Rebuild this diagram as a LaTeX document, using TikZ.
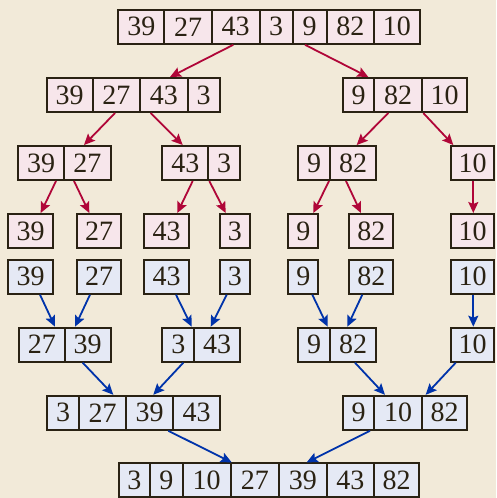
\documentclass[tikz,border=0pt]{standalone}
\usepackage{fontspec}
\setmainfont{Liberation Serif}
\usetikzlibrary{arrows.meta}
\definecolor{bg}{HTML}{F2EAD9}
\definecolor{pinkfill}{HTML}{F7E6EB}
\definecolor{bluefill}{HTML}{E5E9F5}
\definecolor{edge}{HTML}{2A2213}
\definecolor{textcol}{HTML}{2A2213}
\definecolor{redc}{HTML}{B00638}
\definecolor{bluec}{HTML}{0033AA}
\begin{document}
\begin{tikzpicture}[x=1pt,y=-1pt,
  cell/.style={draw=edge, line width=2pt, minimum height=34pt, inner sep=0pt,
    font=\fontsize{28}{30}\selectfont, text=textcol},
  pk/.style={cell, fill=pinkfill, minimum width=#1},
  bl/.style={cell, fill=bluefill, minimum width=#1},
  redarr/.style={draw=redc, line width=1.8pt, -{Stealth[length=11pt,width=10pt,inset=2pt]}},
  bluarr/.style={draw=bluec, line width=1.8pt, -{Stealth[length=11pt,width=10pt,inset=2pt]}}]
\fill[bg] (0,0) rectangle (496,498);
\useasboundingbox (0,0) rectangle (496,498);
% row 1
\node[pk=46pt] (a1) at (141.3,26.8) {39};
\node[pk=47.4pt] (a2) at (188,26.8) {27};
\node[pk=48pt] (a3) at (235.7,26.8) {43};
\node[pk=33pt] (a4) at (276.2,26.8) {3};
\node[pk=34pt] (a5) at (309.7,26.8) {9};
\node[pk=47.3pt] (a6) at (350.35,26.8) {82};
\node[pk=45.7pt] (a7) at (396.85,26.8) {10};
% row 2
\node[pk=46pt] (b1) at (69.7,95) {39};
\node[pk=47.3pt] (b2) at (116.35,95) {27};
\node[pk=47.7pt] (b3) at (163.85,95) {43};
\node[pk=32pt] (b4) at (203.7,95) {3};
\node[pk=31.6pt] (b5) at (358.5,95) {9};
\node[pk=47.4pt] (b6) at (398,95) {82};
\node[pk=45.6pt] (b7) at (444.5,95) {10};
% row 3
\node[pk=45.7pt] (c1) at (41.15,163) {39};
\node[pk=46.7pt] (c2) at (87.35,163) {27};
\node[pk=46pt] (c3) at (185.3,163) {43};
\node[pk=31.4pt] (c4) at (224,163) {3};
\node[pk=31.7pt] (c5) at (314.15,163) {9};
\node[pk=46.3pt] (c6) at (353.15,163) {82};
\node[pk=42.7pt] (c7) at (472.65,163) {10};
% row 4
\node[pk=44.7pt] (d1) at (30.65,231) {39};
\node[pk=44.3pt] (d2) at (99.15,231) {27};
\node[pk=44.7pt] (d3) at (166.65,231) {43};
\node[pk=29.7pt] (d4) at (234.85,231) {3};
\node[pk=30pt] (d5) at (303.3,231) {9};
\node[pk=44pt] (d6) at (371.3,231) {82};
\node[pk=42.7pt] (d7) at (472.65,231) {10};
% row 5
\node[bl=44.7pt] (e1) at (30.65,276.7) {39};
\node[bl=44.3pt] (e2) at (99.15,276.7) {27};
\node[bl=44.7pt] (e3) at (166.65,276.7) {43};
\node[bl=29.7pt] (e4) at (234.85,276.7) {3};
\node[bl=30pt] (e5) at (303.3,276.7) {9};
\node[bl=44pt] (e6) at (371.3,276.7) {82};
\node[bl=42.7pt] (e7) at (472.65,276.7) {10};
% row 6
\node[bl=45.7pt] (f1) at (41.85,344.7) {27};
\node[bl=46pt] (f2) at (87.7,344.7) {39};
\node[bl=32pt] (f3) at (178.3,344.7) {3};
\node[bl=45.4pt] (f4) at (217,344.7) {43};
\node[bl=31.7pt] (f5) at (314.15,344.7) {9};
\node[bl=46.3pt] (f6) at (353.15,344.7) {82};
\node[bl=42.7pt] (f7) at (472.65,344.7) {10};
% row 7
\node[bl=32.6pt] (g1) at (63,412.8) {3};
\node[bl=46.7pt] (g2) at (102.65,412.8) {27};
\node[bl=47.3pt] (g3) at (149.65,412.8) {39};
\node[bl=46.4pt] (g4) at (196.5,412.8) {43};
\node[bl=31.6pt] (g5) at (358.5,412.8) {9};
\node[bl=47.4pt] (g6) at (398,412.8) {10};
\node[bl=45.6pt] (g7) at (444.5,412.8) {82};
% row 8
\node[bl=31.3pt] (h1) at (134.35,480.4) {3};
\node[bl=32.7pt] (h2) at (166.35,480.4) {9};
\node[bl=48pt] (h3) at (206.7,480.4) {10};
\node[bl=48.3pt] (h4) at (254.85,480.4) {27};
\node[bl=47.7pt] (h5) at (302.85,480.4) {39};
\node[bl=47.3pt] (h6) at (350.35,480.4) {43};
\node[bl=45pt] (h7) at (396.5,480.4) {82};
% split arrows
\draw[redarr] ([xshift=-2.4pt]a3.south) -- ([xshift=6.15pt]b3.north);
\draw[redarr] ([xshift=-4.7pt]a5.south) -- ([xshift=9.8pt]b5.north);
\draw[redarr] ([xshift=-1.35pt]b2.south) -- ([xshift=-3.35pt]c2.north);
\draw[redarr] ([xshift=-13.15pt]b3.south) -- ([xshift=-2.6pt]c3.north);
\draw[redarr] ([xshift=-9.7pt]b6.south) -- ([xshift=3.55pt]c6.north);
\draw[redarr] ([xshift=-21.2pt]b7.south) -- ([xshift=-19.35pt]c7.north);
\draw[redarr] ([xshift=14.85pt]c1.south) -- ([xshift=10.05pt]d1.north);
\draw[redarr] ([xshift=-13.35pt]c2.south) -- ([xshift=-9.85pt]d2.north);
\draw[redarr] ([xshift=7.4pt]c3.south) -- ([xshift=10.65pt]d3.north);
\draw[redarr] ([xshift=-14.7pt]c4.south) -- ([xshift=-9.15pt]d4.north);
\draw[redarr] ([xshift=14.85pt]c5.south) -- ([xshift=10pt]d5.north);
\draw[redarr] ([xshift=-7.15pt]c6.south) -- ([xshift=-10.3pt]d6.north);
\draw[redarr] ([xshift=0.65pt]c7.south) -- ([xshift=0.65pt]d7.north);
% merge arrows
\draw[bluarr] ([xshift=9.35pt]e1.south) -- ([xshift=13.15pt]f1.north);
\draw[bluarr] ([xshift=-9.15pt]e2.south) -- ([xshift=-12.7pt]f2.north);
\draw[bluarr] ([xshift=9.35pt]e3.south) -- ([xshift=13.4pt]f3.north);
\draw[bluarr] ([xshift=-8.15pt]e4.south) -- ([xshift=-6.3pt]f4.north);
\draw[bluarr] ([xshift=9pt]e5.south) -- ([xshift=13.55pt]f5.north);
\draw[bluarr] ([xshift=-9pt]e6.south) -- ([xshift=-5.85pt]f6.north);
\draw[bluarr] ([xshift=0.65pt]e7.south) -- ([xshift=0.65pt]f7.north);
\draw[bluarr] ([xshift=-5pt]f2.south) -- ([xshift=10.65pt]g2.north);
\draw[bluarr] ([xshift=5pt]f3.south) -- ([xshift=3.65pt]g3.north);
\draw[bluarr] ([xshift=1.85pt]f6.south) -- ([xshift=-13pt]g6.north);
\draw[bluarr] ([xshift=-16.95pt]f7.south) -- ([xshift=-18.8pt]g7.north);
\draw[bluarr] ([xshift=-28.2pt]g4.south) -- ([xshift=-23.15pt]h4.north);
\draw[bluarr] ([xshift=11.5pt]g5.south) -- ([xshift=3.85pt]h5.north);
\end{tikzpicture}
\end{document}
